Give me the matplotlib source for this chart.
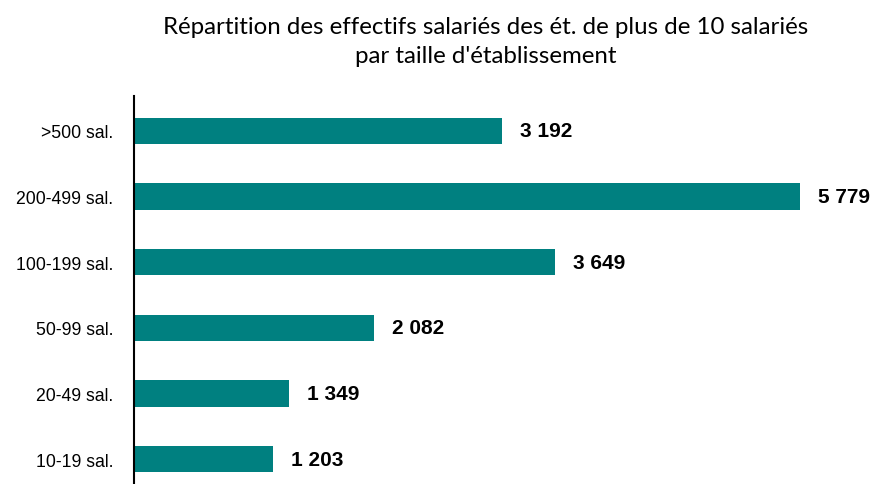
import matplotlib
matplotlib.use("Agg")
import matplotlib.pyplot as plt

categories = [">500 sal.", "200-499 sal.", "100-199 sal.", "50-99 sal.", "20-49 sal.", "10-19 sal."]
values = [3192, 5779, 3649, 2082, 1349, 1203]
value_labels = ["3 192", "5 779", "3 649", "2 082", "1 349", "1 203"]

W, H = 874, 485
fig = plt.figure(figsize=(W / 100, H / 100), dpi=100)
ax_left = 134 / W
ax_top = 97 / H
ax = fig.add_axes([ax_left, 0, 1 - ax_left, 1 - ax_top])

pos = list(range(len(categories)))
ax.barh(pos, values, height=0.4, color="#008080", edgecolor="none")
ax.set_ylim(5.38, -0.53)
ax.set_xlim(0, (W - 134) / ((800 - 134) / 5779))

for p, v, lab in zip(pos, values, value_labels):
    ax.annotate(lab, (v, p), xytext=(18, 0), textcoords="offset pixels",
                va="center", ha="left", fontsize=15, fontweight="bold",
                family="Liberation Sans", color="black")

ax.set_yticks(pos)
ax.set_yticklabels(categories, family="Liberation Sans", fontsize=12.7)
ax.tick_params(axis="y", length=0, pad=15)
ax.set_xticks([])
for s in ["top", "right", "bottom"]:
    ax.spines[s].set_visible(False)
ax.spines["left"].set_linewidth(1.5)
ax.spines["left"].set_color("black")

fig.text(486 / W, 1 - 42 / H, "Répartition des effectifs salariés des ét. de plus de 10 salariés\npar taille d'établissement",
         ha="center", va="center", fontsize=17.3, family="Lato", linespacing=1.5)

fig.savefig("out.png", dpi=100)
